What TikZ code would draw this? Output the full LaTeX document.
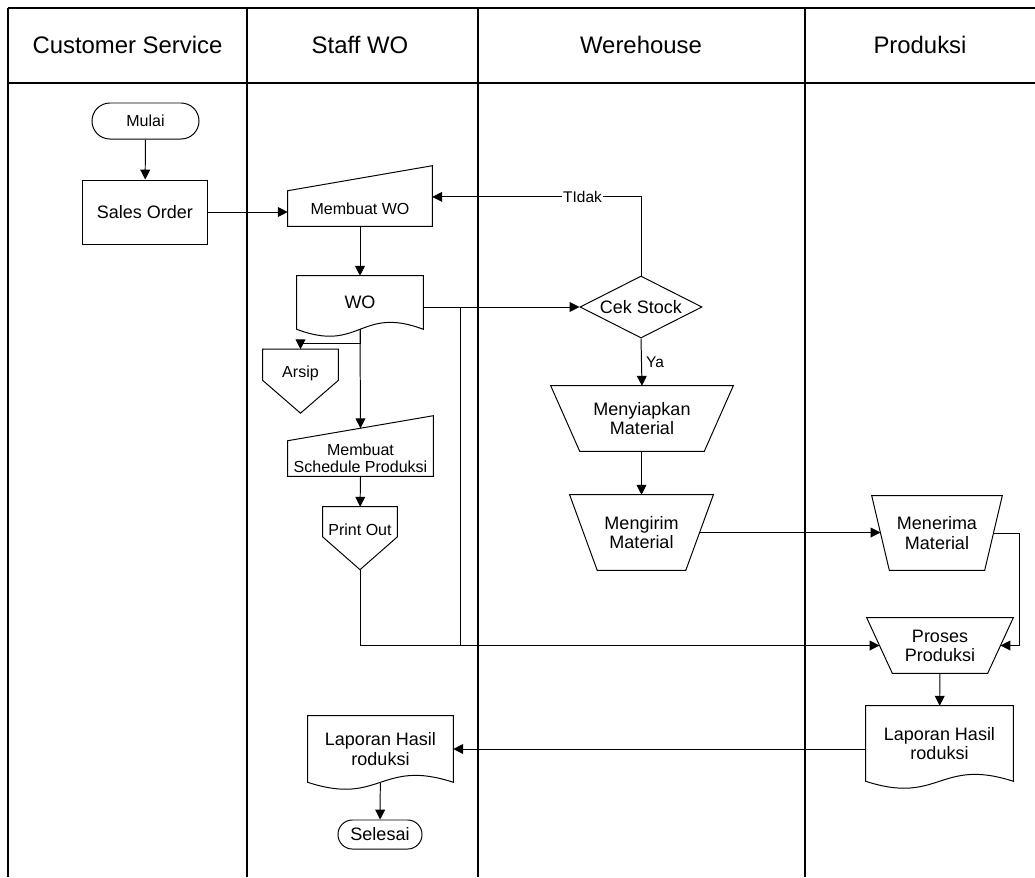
\documentclass[tikz,border=0pt]{standalone}
\usepackage{fontspec}
\setmainfont{Liberation Sans}
\usepackage{tikz}
\usetikzlibrary{shapes.geometric,arrows.meta}

\tikzset{
  lane/.style={line width=0.9pt},
  ln/.style={line width=0.7pt},
  arr/.style={-{Triangle[length=7pt,width=7pt]}},
  head/.style={font=\fontsize{17}{20}\selectfont},
  small/.style={font=\fontsize{11.4}{12.2}\selectfont, align=center},
  big/.style={font=\fontsize{12.8}{13.6}\selectfont, align=center},
  lbl/.style={font=\fontsize{11}{12}\selectfont, inner sep=1pt},
  term/.style={draw, ln, rounded corners=0.45cm, inner sep=0pt},
  dec/.style={diamond, draw, ln, aspect=2, inner sep=1pt, minimum width=3.05cm, minimum height=1.55cm},
  doc/.style 2 args={minimum width=#1, minimum height=#2, inner sep=0pt,
    append after command={\pgfextra{\draw[ln] (\tikzlastnode.south east) -- (\tikzlastnode.north east)
      -- (\tikzlastnode.north west) -- (\tikzlastnode.south west)
      .. controls ([yshift=-0.6cm]\tikzlastnode.south) and ([yshift=0.6cm]\tikzlastnode.south) .. (\tikzlastnode.south east) -- cycle;}}},
  manin/.style 2 args={minimum width=#1, minimum height=#2, inner sep=0pt,
    append after command={\pgfextra{\draw[ln] (\tikzlastnode.south west) -- (\tikzlastnode.north west)
      -- ([yshift=0.625cm]\tikzlastnode.north east) -- (\tikzlastnode.south east) -- cycle;}}},
  offpage/.style 2 args={minimum width=#1, minimum height=#2, inner sep=0pt,
    append after command={\pgfextra{\draw[ln] (\tikzlastnode.north west) -- (\tikzlastnode.north east)
      -- ([yshift=0.41cm]\tikzlastnode.south east) -- ([yshift=-0.41cm]\tikzlastnode.south)
      -- ([yshift=0.41cm]\tikzlastnode.south west) -- cycle;}}},
  manop/.style n args={3}{minimum width=#1, minimum height=#2, inner sep=0pt,
    append after command={\pgfextra{\draw[ln] ([xshift=-#3]\tikzlastnode.north west) -- ([xshift=#3]\tikzlastnode.north east)
      -- ([xshift=-#3]\tikzlastnode.south east) -- ([xshift=#3]\tikzlastnode.south west) -- cycle;}}}
}

\begin{document}
\begin{tikzpicture}[x=0.025cm, y=-0.025cm]
  \useasboundingbox (0,0) rectangle (1035,877);
  \draw[lane] (8,8) -- (1035,8) (8,83) -- (1035,83)
    (8,8) -- (8,877) (247,8) -- (247,877) (805,8) -- (805,877);
  \draw[lane, line width=1.3pt] (478,8) -- (478,877);

  \node[head] (hcs) at (127.5,45) {Customer Service};
  \node[head] (hwo) at (360,45) {Staff WO};
  \node[head] (hwh) at (641,45) {Werehouse};
  \node[head] (hpr) at (920,45) {Produksi};

  \node[term, small, minimum width=2.675cm, minimum height=0.9cm] (mulai) at (145.5,121) {Mulai};
  \node[draw, ln, big, minimum width=3.1cm, minimum height=1.6cm] (so) at (145,212) {Sales Order};
  \node[manin={3.6cm}{0.875cm}, small] (mwo) at (360,208.5) {Membuat WO};
  \node[doc={3.15cm}{1.325cm}, big] (wo) at (360,302.5) {WO};
  \node[offpage={1.875cm}{1.175cm}, small] (arsip) at (300.5,373) {Arsip};
  \node[manin={3.625cm}{0.875cm}, small] (sched) at (360.5,458.5) {Membuat\\Schedule Produksi};
  \node[offpage={1.85cm}{1.15cm}, small] (pout) at (360,530) {Print Out};
  \node[dec, big] (cek) at (641,307) {Cek Stock};
  \node[manop={3.825cm}{1.625cm}{0.3625cm}, big] (siap) at (642,418.5) {Menyiapkan\\Material};
  \node[manop={2.89cm}{1.875cm}{0.345cm}, big] (kirim) at (641.5,532.5) {Mengirim\\Material};
  \node[manop={2.81cm}{1.85cm}{0.22cm}, big] (terima) at (937,533) {Menerima\\Material};
  \node[manop={3.01cm}{1.375cm}{0.32cm}, big] (proses) at (940,645.5) {Proses\\Produksi};
  \node[doc={3.675cm}{1.875cm}, big] (lapr) at (939.5,743.5) {Laporan Hasil\\roduksi};
  \node[doc={3.625cm}{1.65cm}, big] (lapl) at (380.5,749) {Laporan Hasil\\roduksi};
  \node[term, big, rounded corners=0.36cm, minimum width=2.1cm, minimum height=0.725cm] (selesai) at (380,834.5) {Selesai};

  \path[arr, ln]
    (mulai) edge (so)
    (so.east) edge (so.east -| mwo.west)
    (mwo) edge (wo)
    (wo.east |- cek.west) edge (cek)
    (sched) edge (pout)
    (siap.south -| kirim.north) edge (kirim.north)
    (kirim.east) edge (kirim.east -| terima.west)
    (proses) edge (lapr)
    (lapr.west |- lapl.east) edge (lapl.east)
    (lapl) edge (selesai);
  \draw[arr, ln] (wo.south) -- ++(0,14) -| (arsip.north);
  \draw[arr, ln] (wo.south) -- ([yshift=0.31cm]sched.north);
  \draw[arr, ln] (cek.north) |- node[lbl, fill=white, pos=0.64] {TIdak} ([yshift=0.29cm]mwo.east);
  \draw[arr, ln] (cek.south) -- node[lbl, right=2pt] {Ya} (siap.north);
  \draw[arr, ln] ([yshift=-0.41cm]pout.south) |- (proses.west);
  \draw[ln] (wo.east |- cek.west) -- ++(37,0) |- (proses.west);
  \draw[arr, ln] (terima.east) -- ++(26,0) |- (proses.east);
\end{tikzpicture}
\end{document}
